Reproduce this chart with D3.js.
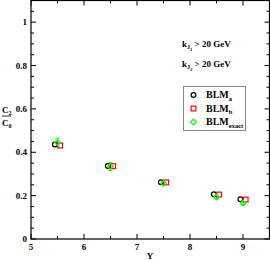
<!DOCTYPE html>
<html><head><meta charset="utf-8">
<script src="https://cdn.jsdelivr.net/npm/d3@7"></script>
<style>body{margin:0;background:#fff}svg{display:block}text{font-family:"Liberation Serif","Times New Roman",serif;font-weight:bold}</style>
</head><body>
<script>
const xA = [5.45, 6.45, 7.45, 8.45, 8.95];
const xB = [5.55, 6.55, 7.55, 8.55, 9.05];
const xE = [5.5, 6.5, 7.5, 8.5, 9.0];
const blmA = [0.436, 0.337, 0.262, 0.206, 0.183];
const blmB = [0.431, 0.336, 0.261, 0.205, 0.182];
const blmExact = [0.445, 0.334, 0.257, 0.193, 0.165];
const errExact = [0.02, 0.018, 0.006, 0.008, 0.007];
const xTicks = [5, 6, 7, 8, 9];
const yTicks = [0, 0.2, 0.4, 0.6, 0.8, 1];

const W = 270, H = 260;
const m = {l: 31, r: 269.5, t: 0.5, b: 239};
const svg = d3.select("body").append("svg").attr("width", W).attr("height", H);
const x = d3.scaleLinear().domain([5, 9.5]).range([m.l, m.r]);
const y = d3.scaleLinear().domain([0, 1.1]).range([m.b, m.t]);

// frame
svg.append("rect").attr("x", m.l).attr("y", m.t).attr("width", m.r - m.l).attr("height", m.b - m.t)
  .attr("fill", "none").attr("stroke", "#000").attr("stroke-width", 1.2);

const g = svg.append("g");
const xMinor = d3.range(5, 9.5001, 0.5);
const yMinor = d3.range(0, 1.1001, 0.05);
function isMajorX(v){return Math.abs(v - Math.round(v)) < 1e-6;}
function isMajorY(v){return Math.abs(v*5 - Math.round(v*5)) < 1e-6;}
xMinor.forEach(v => {
  const L = isMajorX(v) ? 5 : 3;
  g.append("line").attr("x1", x(v)).attr("x2", x(v)).attr("y1", m.b).attr("y2", m.b - L).attr("stroke", "#000");
  g.append("line").attr("x1", x(v)).attr("x2", x(v)).attr("y1", m.t).attr("y2", m.t + L).attr("stroke", "#000");
});
yMinor.forEach(v => {
  const L = isMajorY(v) ? 5 : 3;
  g.append("line").attr("y1", y(v)).attr("y2", y(v)).attr("x1", m.l).attr("x2", m.l + L).attr("stroke", "#000");
  g.append("line").attr("y1", y(v)).attr("y2", y(v)).attr("x1", m.r).attr("x2", m.r - L).attr("stroke", "#000");
});
xTicks.forEach(v => {
  g.append("text").attr("x", x(v)).attr("y", 250).attr("text-anchor", "middle").attr("font-size", 9).text(v);
});
yTicks.forEach(v => {
  g.append("text").attr("x", 27).attr("y", y(v)).attr("dy", "0.35em").attr("text-anchor", "end").attr("font-size", 9).text(v);
});
svg.append("text").attr("x", 150).attr("y", 259).attr("text-anchor", "middle").attr("font-size", 9).text("Y");

// y label fraction
const yl = svg.append("g");
const t1 = yl.append("text").attr("x", 2).attr("y", 113).attr("font-size", 9).text("C");
t1.append("tspan").attr("font-size", 6).attr("dy", 2).text("2");
yl.append("line").attr("x1", 2).attr("x2", 11).attr("y1", 116).attr("y2", 116).attr("stroke", "#000").attr("stroke-width", 0.8);
const t2 = yl.append("text").attr("x", 2).attr("y", 126).attr("font-size", 9).text("C");
t2.append("tspan").attr("font-size", 6).attr("dy", 2).text("0");

// annotations
function kText(yy, sub){
  const t = svg.append("text").attr("x", 182).attr("y", yy).attr("font-size", 9).text("k");
  t.append("tspan").attr("font-size", 6).attr("dy", 2).text("J");
  t.append("tspan").attr("font-size", 4.5).attr("dy", 1.5).text(sub);
  t.append("tspan").attr("dy", -3.5).text(" > 20 GeV");
}
kText(47, "1");
kText(67, "2");

// error bars (exact)
const eg = svg.append("g").attr("stroke", "#00ff00").attr("stroke-width", 1);
xE.forEach((xv, i) => {
  const e = errExact[i];
  eg.append("line").attr("x1", x(xv)).attr("x2", x(xv)).attr("y1", y(blmExact[i] - e)).attr("y2", y(blmExact[i] + e));
  [blmExact[i] - e, blmExact[i] + e].forEach(yy => eg.append("line").attr("x1", x(xv) - 2).attr("x2", x(xv) + 2).attr("y1", y(yy)).attr("y2", y(yy)));
});

// markers
function circ(sel, cx, cy){ sel.append("circle").attr("cx", cx).attr("cy", cy).attr("r", 2.4).attr("fill", "none").attr("stroke", "#000").attr("stroke-width", 1.2); }
function sq(sel, cx, cy){ sel.append("rect").attr("x", cx - 2.4).attr("y", cy - 2.4).attr("width", 4.8).attr("height", 4.8).attr("fill", "none").attr("stroke", "#ff0000").attr("stroke-width", 1.2); }
function dia(sel, cx, cy){ const s = 2.8; sel.append("path").attr("d", `M${cx},${cy - s}L${cx + s},${cy}L${cx},${cy + s}L${cx - s},${cy}Z`).attr("fill", "none").attr("stroke", "#00ff00").attr("stroke-width", 1.2); }
xA.forEach((xv, i) => circ(svg, x(xv), y(blmA[i])));
xB.forEach((xv, i) => sq(svg, x(xB[i]), y(blmB[i])));
xE.forEach((xv, i) => dia(svg, x(xv), y(blmExact[i])));

// legend
svg.append("rect").attr("x", 183.5).attr("y", 86.5).attr("width", 62).attr("height", 44).attr("fill", "#fff").attr("stroke", "#888").attr("stroke-width", 1);
const leg = [["a", circ], ["b", sq], ["exact", dia]];
leg.forEach((d, i) => {
  const cy = 95 + i * 13.5;
  d[1](svg, 193.5, cy);
  const t = svg.append("text").attr("x", 206).attr("y", cy + 3).attr("font-size", 10).text("BLM");
  t.append("tspan").attr("font-size", 6.5).attr("dy", 2.5).text(d[0]);
});
</script>
</body></html>
